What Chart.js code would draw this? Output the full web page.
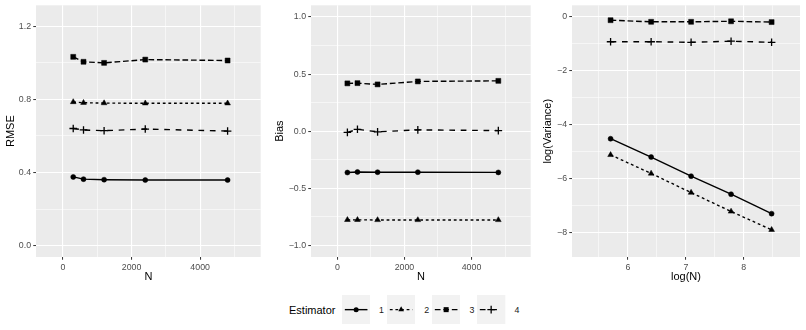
<!DOCTYPE html>
<html>
<head>
<meta charset="utf-8">
<title>Estimator comparison</title>
<script src="https://cdn.jsdelivr.net/npm/chart.js@4.4.1/dist/chart.umd.min.js"></script>
<style>
    body {
        margin: 0;
        width: 806px;
        height: 330px;
        background: #ffffff;
        position: relative;
        overflow: hidden;
        font-family: "Liberation Sans", Arial, sans-serif;
    }
    canvas { position: absolute; top: 0; }
    .legend-title {
        position: absolute;
        font-size: 11px;
        line-height: 13px;
        color: #000;
        white-space: nowrap;
    }
    .legend-label {
        position: absolute;
        font-size: 8.8px;
        line-height: 10px;
        color: #1a1a1a;
    }
    .legend-key { position: absolute; }
</style>
</head>
<body>
<canvas id="rmseChart" width="266" height="290" style="left:0px"></canvas>
<canvas id="biasChart" width="266" height="290" style="left:270px"></canvas>
<canvas id="varChart" width="270" height="290" style="left:536px"></canvas>
<div id="legend"></div>

<script>
// Data
const estimators = ['1', '2', '3', '4'];
const nValues = [300, 600, 1200, 2400, 4800];
const logNValues = [5.70, 6.40, 7.09, 7.78, 8.48];

const rmse1 = [0.376, 0.364, 0.361, 0.359, 0.359];
const rmse2 = [0.786, 0.782, 0.780, 0.779, 0.779];
const rmse3 = [1.033, 1.006, 1.000, 1.018, 1.013];
const rmse4 = [0.641, 0.633, 0.629, 0.638, 0.627];

const bias1 = [-0.361, -0.356, -0.358, -0.358, -0.360];
const bias2 = [-0.775, -0.775, -0.776, -0.776, -0.776];
const bias3 = [0.419, 0.421, 0.410, 0.436, 0.441];
const bias4 = [-0.010, 0.017, -0.005, 0.012, 0.006];

const logVar1 = [-4.52, -5.20, -5.91, -6.58, -7.30];
const logVar2 = [-5.12, -5.81, -6.52, -7.22, -7.90];
const logVar3 = [-0.12, -0.18, -0.18, -0.16, -0.19];
const logVar4 = [-0.92, -0.92, -0.94, -0.90, -0.94];

// Tick positions (all grid lines) and the labelled ones
const nTicks = [0, 1000, 2000, 3000, 4000, 5000];
const nTickLabels = [0, 2000, 4000];
const rmseTicks = [0, 0.2, 0.4, 0.6, 0.8, 1.0, 1.2];
const rmseTickLabels = [0, 0.4, 0.8, 1.2];
const biasTicks = [-1, -0.75, -0.5, -0.25, 0, 0.25, 0.5, 0.75, 1];
const biasTickLabels = [-1, -0.5, 0, 0.5, 1];
const logNTicks = [5.5, 6, 6.5, 7, 7.5, 8, 8.5];
const logNTickLabels = [6, 7, 8];
const logVarTicks = [-8, -7, -6, -5, -4, -3, -2, -1, 0];
const logVarTickLabels = [-8, -6, -4, -2, 0];

// Styles per estimator
const pointStyles = ['circle', 'triangle', 'rect', 'cross'];
const pointRadii = [2.5, 3.3, 3.5, 3.8];
const lineDashes = [[], [2.8, 2.8], [5.7, 2.8], [5.7, 5.7]];

const FONT = 'Liberation Sans';

const panelBg = {
    id: 'panelBg',
    beforeDraw(chart) {
        const { ctx, chartArea: a } = chart;
        ctx.save();
        ctx.fillStyle = '#EBEBEB';
        ctx.fillRect(a.left, a.top, a.right - a.left, a.bottom - a.top);
        ctx.restore();
    }
};

const minus = s => s.replace('-', '\u2212');

function axis({ min, max, ticks, labels, fmt, title, titlePad, size, horizontal }) {
    const isMajor = v => labels.some(m => Math.abs(m - v) < 1e-9);
    return {
        type: 'linear',
        min,
        max,
        afterBuildTicks: s => { s.ticks = ticks.map(v => ({ value: v })); },
        afterFit: s => {
            if (horizontal) s.height = size; else s.width = size;
            s.paddingLeft = 0; s.paddingRight = 0;
            s.paddingTop = 0; s.paddingBottom = 0;
        },
        border: { display: false },
        grid: {
            color: '#FFFFFF',
            lineWidth: c => (c.tick && isMajor(c.tick.value)) ? 1.1 : 0.55,
            tickLength: 2.75,
            tickWidth: 1,
            tickColor: c => (c.tick && isMajor(c.tick.value)) ? '#333333' : 'rgba(0,0,0,0)'
        },
        ticks: {
            autoSkip: false,
            maxRotation: 0,
            padding: 2.2,
            color: '#4D4D4D',
            font: { family: FONT, size: 8.8 },
            callback: v => isMajor(v) ? minus(fmt(v)) : ''
        },
        title: {
            display: true,
            text: title,
            color: '#000000',
            font: { family: FONT, size: 11 },
            padding: titlePad
        }
    };
}

function buildDatasets(xs, series) {
    return series.map((ys, i) => ({
        label: estimators[i],
        data: xs.map((x, j) => ({ x, y: ys[j] })),
        borderColor: '#000000',
        borderWidth: 1.4,
        borderDash: lineDashes[i],
        pointStyle: pointStyles[i],
        pointRadius: pointRadii[i],
        pointBackgroundColor: '#000000',
        pointBorderColor: '#000000',
        pointBorderWidth: i === 3 ? 1.3 : 0.5,
        tension: 0,
        clip: false
    }));
}

function createPanel(id, xs, series, xAxis, yAxis, padRight) {
    return new Chart(document.getElementById(id), {
        type: 'line',
        data: { datasets: buildDatasets(xs, series) },
        options: {
            responsive: false,
            animation: false,
            events: [],
            layout: { padding: { top: 5, right: padRight, bottom: 0, left: 0 } },
            plugins: { legend: { display: false }, tooltip: { enabled: false } },
            scales: { x: xAxis, y: yAxis }
        },
        plugins: [panelBg]
    });
}

const xTitlePad = { top: 0, bottom: 6 };

createPanel('rmseChart', nValues, [rmse1, rmse2, rmse3, rmse4],
    axis({ min: -785, max: 5765, ticks: nTicks, labels: nTickLabels, fmt: v => String(v),
        title: 'N', titlePad: xTitlePad, size: 33, horizontal: true }),
    axis({ min: -0.062, max: 1.315, ticks: rmseTicks, labels: rmseTickLabels, fmt: v => v.toFixed(1),
        title: 'RMSE', titlePad: { top: 4, bottom: 0 }, size: 36 }),
    3);

createPanel('biasChart', nValues, [bias1, bias2, bias3, bias4],
    axis({ min: -785, max: 5765, ticks: nTicks, labels: nTickLabels, fmt: v => String(v),
        title: 'N', titlePad: xTitlePad, size: 33, horizontal: true }),
    axis({ min: -1.1, max: 1.102, ticks: biasTicks, labels: biasTickLabels, fmt: v => v.toFixed(1),
        title: 'Bias', titlePad: { top: 3, bottom: 0 }, size: 41 }),
    4);

createPanel('varChart', logNValues, [logVar1, logVar2, logVar3, logVar4],
    axis({ min: 5.034, max: 8.97, ticks: logNTicks, labels: logNTickLabels, fmt: v => String(v),
        title: 'log(N)', titlePad: xTitlePad, size: 33, horizontal: true }),
    axis({ min: -8.91, max: 0.433, ticks: logVarTicks, labels: logVarTickLabels, fmt: v => String(v),
        title: 'log(Variance)', titlePad: { top: 5, bottom: 0 }, size: 36 }),
    6);

// Legend at the bottom
function keySvg(i) {
    const w = 28.3, h = 29.3, cy = h / 2, cx = w / 2;
    let shape = '';
    if (pointStyles[i] === 'circle') {
        shape = `<circle cx="${cx}" cy="${cy}" r="2.5" fill="#000"/>`;
    } else if (pointStyles[i] === 'triangle') {
        const r = 3.3, s = Math.sin(2 * Math.PI / 3) * r;
        shape = `<polygon points="${cx},${cy - r} ${cx + s},${cy + r / 2} ${cx - s},${cy + r / 2}" fill="#000"/>`;
    } else if (pointStyles[i] === 'rect') {
        shape = `<rect x="${cx - 2.5}" y="${cy - 2.5}" width="5" height="5" fill="#000"/>`;
    } else {
        shape = `<path d="M${cx - 3.8} ${cy}H${cx + 3.8}M${cx} ${cy - 3.8}V${cy + 3.8}" stroke="#000" stroke-width="1.3"/>`;
    }
    const dash = lineDashes[i].length ? `stroke-dasharray="${lineDashes[i].join(' ')}"` : '';
    return `<svg width="${w}" height="${h}" xmlns="http://www.w3.org/2000/svg">
        <rect width="${w}" height="${h}" fill="#F2F2F2"/>
        <line x1="${w * 0.1}" y1="${cy}" x2="${w * 0.9}" y2="${cy}" stroke="#000" stroke-width="1.4" ${dash}/>
        ${shape}
    </svg>`;
}

const legend = document.getElementById('legend');
legend.innerHTML = `<span class="legend-title" style="left:289px;top:304px">Estimator</span>` +
    estimators.map((e, i) => {
        const left = 341.7 + i * 45.2;
        return `<div class="legend-key" style="left:${left}px;top:295px">${keySvg(i)}</div>` +
            `<span class="legend-label" style="left:${left + 37.3}px;top:305px">${e}</span>`;
    }).join('');
</script>
</body>
</html>
